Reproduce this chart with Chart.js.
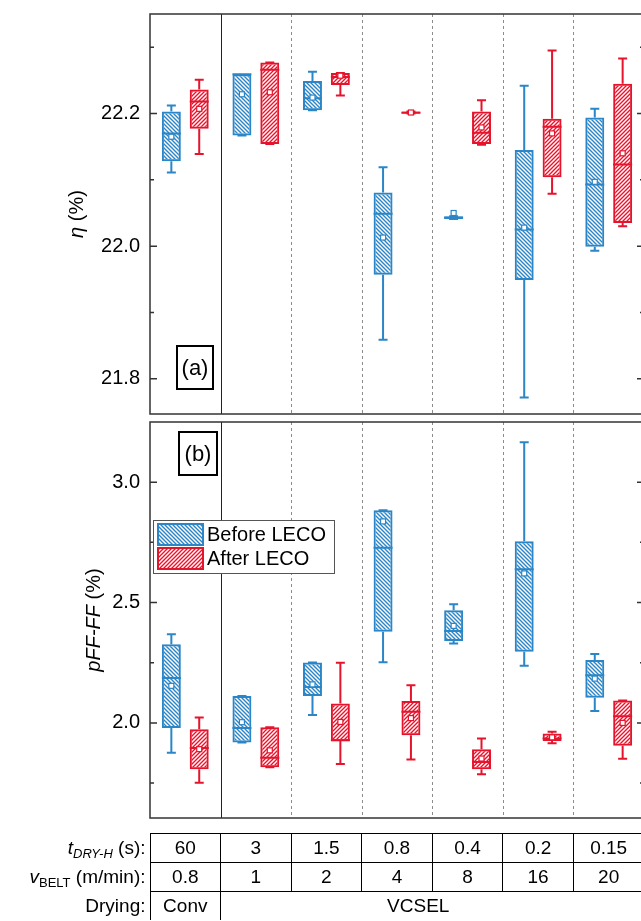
<!DOCTYPE html>
<html lang="en">
<head>
<meta charset="UTF-8">
<title>LECO box plots</title>
<script src="https://cdn.jsdelivr.net/npm/chart.js@4"></script>
<style>
  html, body { margin: 0; padding: 0; background: #fff; overflow: hidden; }
  #wrap { position: relative; width: 641px; height: 921px; overflow: hidden; font-family: "Liberation Sans", Arial, sans-serif; }
  canvas { position: absolute; left: 0; }
  #chartA { top: 0; }
  #chartB { top: 408px; }
  #tbl { position: absolute; left: 0; top: 833px; border-collapse: collapse; table-layout: fixed; width: 644px; font-size: 19px; color: #000; }
  #tbl td { height: 28px; padding: 0; text-align: center; white-space: nowrap; line-height: 28px; overflow: visible; }
  #tbl td.lab { text-align: right; padding-right: 4px; }
  #tbl td.val { border-left: 1px solid #000; border-right: 1px solid #000; }
  #tbl tr:first-child td.val { border-top: 1px solid #000; }
  #tbl tr + tr td.val { border-top: 1px solid #000; }
  #tbl td.wide { padding-right: 28px; }
  #tbl sub { font-size: 13px; line-height: 0; vertical-align: -4px; }
</style>
</head>
<body>
<div id="wrap">
  <canvas id="chartA" width="660" height="420"></canvas>
  <canvas id="chartB" width="660" height="420"></canvas>
  <table id="tbl"></table>
</div>
<script>
// columns (drying time / belt speed)
const tDry = ['60', '3', '1.5', '0.8', '0.4', '0.2', '0.15'];
const vBelt = ['0.8', '1', '2', '4', '8', '16', '20'];
const drying = ['Conv', 'VCSEL'];
const seriesNames = ['Before LECO', 'After LECO'];

// eta (%) -> [min, q1, median, q3, max] per column
const etaBefore = [
  [22.111, 22.128, 22.170, 22.203, 22.212],
  [22.167, 22.167, 22.259, 22.259, 22.259],
  [22.205, 22.205, 22.223, 22.249, 22.263],
  [21.859, 21.957, 22.049, 22.081, 22.119],
  [22.041, 22.041, 22.043, 22.045, 22.045],
  [21.772, 21.949, 22.025, 22.145, 22.242],
  [21.993, 21.999, 22.093, 22.194, 22.207]
];
const etaBeforeMean = [22.165, 22.229, 22.224, 22.013, 22.050, 22.028, 22.097];
const etaAfter = [
  [22.139, 22.177, 22.218, 22.236, 22.251],
  [22.154, 22.154, 22.266, 22.277, 22.277],
  [22.227, 22.243, 22.255, 22.261, 22.261],
  [22.200, 22.200, 22.201, 22.203, 22.203],
  [22.153, 22.154, 22.171, 22.203, 22.220],
  [22.079, 22.104, 22.180, 22.192, 22.295],
  [22.030, 22.035, 22.123, 22.245, 22.283]
];
const etaAfterMean = [22.207, 22.232, 22.257, 22.2015, 22.179, 22.170, 22.140];

// pFF-FF (%) -> [min, q1, median, q3, max] per column
const pffBefore = [
  [1.876, 1.979, 2.187, 2.327, 2.368],
  [1.919, 1.919, 1.979, 2.112, 2.112],
  [2.033, 2.112, 2.149, 2.251, 2.251],
  [2.252, 2.379, 2.728, 2.883, 2.883],
  [2.330, 2.340, 2.382, 2.468, 2.493],
  [2.237, 2.296, 2.638, 2.755, 3.166],
  [2.049, 2.105, 2.198, 2.261, 2.286]
];
const pffBeforeMean = [2.154, 2.003, 2.160, 2.837, 2.403, 2.621, 2.184];
const pffAfter = [
  [1.751, 1.808, 1.896, 1.974, 2.022],
  [1.816, 1.816, 1.855, 1.982, 1.982],
  [1.829, 1.924, 1.928, 2.081, 2.250],
  [1.848, 1.949, 2.046, 2.091, 2.156],
  [1.787, 1.807, 1.838, 1.891, 1.935],
  [1.915, 1.925, 1.935, 1.956, 1.963],
  [1.851, 1.905, 2.028, 2.093, 2.093]
];
const pffAfterMean = [1.891, 1.886, 2.004, 2.020, 1.852, 1.940, 2.000];

const etaTicks = [21.8, 22.0, 22.2];
const etaMinor = [21.9, 22.1, 22.3];
const pffTicks = [2.0, 2.5, 3.0];
const pffMinor = [1.75, 2.25, 2.75];

const BLUE = '#2a86c6';
const RED = '#e5142c';
const FONT = '"Liberation Sans", Arial, Helvetica, sans-serif';

function hatch(color, slash) {
  const n = 4;
  const c = document.createElement('canvas');
  c.width = c.height = n;
  const g = c.getContext('2d');
  g.strokeStyle = color;
  g.lineWidth = 1.4;
  g.beginPath();
  if (slash) {
    g.moveTo(-1, n + 1); g.lineTo(n + 1, -1);
    g.moveTo(-1, 1); g.lineTo(1, -1);
    g.moveTo(n - 1, n + 1); g.lineTo(n + 1, n - 1);
  } else {
    g.moveTo(-1, -1); g.lineTo(n + 1, n + 1);
    g.moveTo(n - 1, -1); g.lineTo(n + 1, 1);
    g.moveTo(-1, n - 1); g.lineTo(1, n + 1);
  }
  g.stroke();
  return g.createPattern(c, 'repeat');
}
const blueHatch = hatch(BLUE, false);
const redHatch = hatch(RED, true);

// whiskers, medians and means on top of the floating bars
const boxPlugin = {
  id: 'boxes',
  afterDatasetsDraw(chart) {
    const ctx = chart.ctx, y = chart.scales.y;
    chart.data.datasets.forEach((ds, di) => {
      chart.getDatasetMeta(di).data.forEach((bar, i) => {
        const s = ds.stats[i].map(v => y.getPixelForValue(v));
        const x = bar.x, hw = bar.width / 2, cap = 4.5;
        ctx.save();
        ctx.strokeStyle = ds.borderColor;
        ctx.lineWidth = 2;
        ctx.beginPath();
        ctx.moveTo(x, s[3]); ctx.lineTo(x, s[4]);
        ctx.moveTo(x, s[1]); ctx.lineTo(x, s[0]);
        ctx.moveTo(x - cap, s[4]); ctx.lineTo(x + cap, s[4]);
        ctx.moveTo(x - cap, s[0]); ctx.lineTo(x + cap, s[0]);
        ctx.moveTo(x - hw, s[2]); ctx.lineTo(x + hw, s[2]);
        ctx.stroke();
        const m = y.getPixelForValue(ds.means[i]);
        ctx.lineWidth = 1.2;
        ctx.fillStyle = '#fff';
        ctx.fillRect(x - 2.5, m - 2.5, 5, 5);
        ctx.strokeRect(x - 2.5, m - 2.5, 5, 5);
        ctx.restore();
      });
    });
  }
};

function measureParts(ctx, parts, size) {
  const fonts = parts.map(p => (p.italic ? 'italic ' : '') + size + 'px ' + FONT);
  const widths = parts.map((p, i) => { ctx.font = fonts[i]; return ctx.measureText(p.text).width; });
  return { fonts, widths, total: widths.reduce((a, b) => a + b, 0) };
}

// frame, separators, inward ticks, axis title, tag and legend
const decoPlugin = {
  id: 'deco',
  beforeDatasetsDraw(chart, args, opts) {
    const ctx = chart.ctx, a = chart.chartArea, x = chart.scales.x, y = chart.scales.y;
    ctx.save();
    for (let i = 1; i < chart.data.labels.length; i++) {
      const xb = Math.round((x.getPixelForValue(i - 1) + x.getPixelForValue(i)) / 2) + 0.5;
      ctx.beginPath();
      if (i === 1) { ctx.setLineDash([]); ctx.strokeStyle = '#222'; }
      else { ctx.setLineDash([3, 3]); ctx.strokeStyle = '#8c8c8c'; }
      ctx.lineWidth = 1;
      ctx.moveTo(xb, a.top); ctx.lineTo(xb, a.bottom);
      ctx.stroke();
    }
    ctx.setLineDash([]);
    ctx.strokeStyle = '#333';
    ctx.lineWidth = 1.5;
    const ticks = opts.major.map(v => [v, 7]).concat(opts.minor.map(v => [v, 4]));
    ctx.beginPath();
    ticks.forEach(([v, len]) => {
      const p = y.getPixelForValue(v);
      ctx.moveTo(a.left, p); ctx.lineTo(a.left + len, p);
      ctx.moveTo(a.right, p); ctx.lineTo(a.right - len, p);
    });
    ctx.stroke();
    ctx.strokeRect(a.left, a.top, a.right - a.left, a.bottom - a.top);

    // rotated axis title
    const t = measureParts(ctx, opts.title, 20);
    ctx.translate(opts.titleX, (a.top + a.bottom) / 2);
    ctx.rotate(-Math.PI / 2);
    ctx.fillStyle = '#000';
    ctx.textBaseline = 'middle';
    ctx.textAlign = 'left';
    let cx = -t.total / 2;
    opts.title.forEach((p, i) => { ctx.font = t.fonts[i]; ctx.fillText(p.text, cx, 0); cx += t.widths[i]; });
    ctx.restore();
  },
  afterDraw(chart, args, opts) {
    const ctx = chart.ctx, a = chart.chartArea;
    ctx.save();
    // panel tag
    const tg = opts.tag;
    const tx = a.left + tg.dx, ty = tg.fromTop ? a.top + tg.dy : a.bottom - tg.dy;
    ctx.fillStyle = '#fff';
    ctx.fillRect(tx, ty, tg.w, tg.h);
    ctx.strokeStyle = '#000';
    ctx.lineWidth = 2;
    ctx.strokeRect(tx, ty, tg.w, tg.h);
    ctx.fillStyle = '#000';
    ctx.font = '22px ' + FONT;
    ctx.textAlign = 'center';
    ctx.textBaseline = 'middle';
    ctx.fillText(tg.text, tx + tg.w / 2, ty + tg.h / 2 + 1);

    if (opts.legend) {
      const lx = a.left + 3, ly = a.top + 98, lw = 181, lh = 53;
      ctx.fillStyle = '#fff';
      ctx.fillRect(lx, ly, lw, lh);
      ctx.strokeStyle = '#555';
      ctx.lineWidth = 1;
      ctx.strokeRect(lx + 0.5, ly + 0.5, lw, lh);
      chart.data.datasets.forEach((ds, i) => {
        const sy = ly + 4 + i * 24;
        ctx.fillStyle = ds.backgroundColor;
        ctx.fillRect(lx + 5, sy, 45, 21);
        ctx.strokeStyle = ds.borderColor;
        ctx.lineWidth = 2;
        ctx.strokeRect(lx + 5, sy, 45, 21);
        ctx.fillStyle = '#000';
        ctx.font = '20px ' + FONT;
        ctx.textAlign = 'left';
        ctx.textBaseline = 'middle';
        ctx.fillText(ds.label, lx + 54, sy + 11);
      });
    }
    ctx.restore();
  }
};

function makePanel(id, before, beforeMean, after, afterMean, yMin, yMax, major, minor, deco, padBottom) {
  const barOpts = { borderWidth: 2, borderSkipped: false, categoryPercentage: 0.79, barPercentage: 0.68 };
  return new Chart(document.getElementById(id), {
    type: 'bar',
    data: {
      labels: tDry,
      datasets: [
        Object.assign({ label: seriesNames[0], data: before.map(s => [s[1], s[3]]), stats: before, means: beforeMean,
          backgroundColor: blueHatch, borderColor: BLUE }, barOpts),
        Object.assign({ label: seriesNames[1], data: after.map(s => [s[1], s[3]]), stats: after, means: afterMean,
          backgroundColor: redHatch, borderColor: RED }, barOpts)
      ]
    },
    options: {
      responsive: false,
      animation: false,
      layout: { padding: { top: 14, bottom: padBottom, left: 0, right: 16 } },
      plugins: {
        legend: { display: false },
        tooltip: { enabled: false },
        deco: Object.assign({ major, minor }, deco)
      },
      scales: {
        x: { display: false },
        y: {
          min: yMin, max: yMax, stacked: false,
          grid: { display: false, drawTicks: false },
          border: { display: false },
          ticks: { padding: 10, color: '#000', font: { family: FONT, size: 20 }, callback: v => v.toFixed(1) },
          afterBuildTicks: s => { s.ticks = major.map(v => ({ value: v })); },
          afterFit: s => { s.width = 150; s.paddingTop = 0; s.paddingBottom = 0; }
        }
      }
    },
    plugins: [decoPlugin, boxPlugin]
  });
}

makePanel('chartA', etaBefore, etaBeforeMean, etaAfter, etaAfterMean, 21.747, 22.35, etaTicks, etaMinor, {
  title: [{ text: 'η', italic: true }, { text: ' (%)' }], titleX: 77,
  tag: { text: '(a)', dx: 27, dy: 68, w: 36, h: 43, fromTop: false }, legend: false
}, 6);

makePanel('chartB', pffBefore, pffBeforeMean, pffAfter, pffAfterMean, 1.605, 3.25, pffTicks, pffMinor, {
  title: [{ text: 'pFF-FF', italic: true }, { text: ' (%)' }], titleX: 94,
  tag: { text: '(b)', dx: 29, dy: 10, w: 38, h: 43, fromTop: true }, legend: true
}, 10);

// parameter table under the plots
const tbl = document.getElementById('tbl');
let html = '<colgroup><col style="width:150px">' + tDry.map(() => '<col style="width:70.57px">').join('') + '</colgroup>';
html += '<tr><td class="lab"><i>t</i><sub><i>DRY-H</i></sub> (s):</td>' + tDry.map(v => '<td class="val">' + v + '</td>').join('') + '</tr>';
html += '<tr><td class="lab"><i>v</i><sub>BELT</sub> (m/min):</td>' + vBelt.map(v => '<td class="val">' + v + '</td>').join('') + '</tr>';
html += '<tr><td class="lab">Drying:</td><td class="val">' + drying[0] + '</td><td class="val wide" colspan="' + (tDry.length - 1) + '">' + drying[1] + '</td></tr>';
tbl.innerHTML = html;
</script>
</body>
</html>
